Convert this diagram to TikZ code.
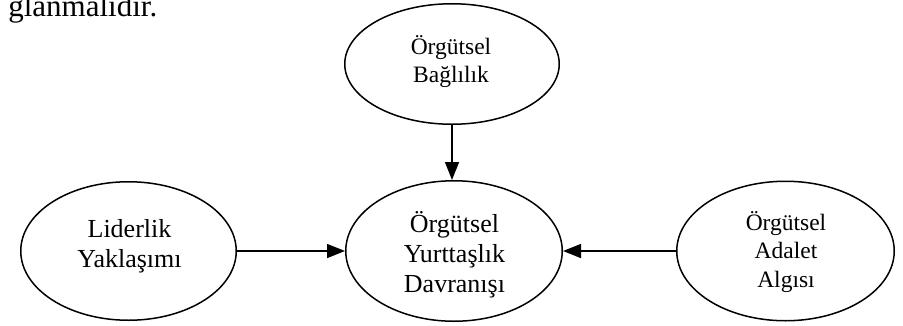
\documentclass[tikz,border=0pt]{standalone}
\usepackage{fontspec}
\setmainfont{Liberation Serif}
\usetikzlibrary{shapes.geometric,arrows.meta}
\tikzset{
  ell/.style={draw, ellipse, line width=1.5pt, inner sep=0pt},
  txt/.style={anchor=base, inner sep=0pt},
  arr/.style={-{Triangle[length=18pt,width=14pt]}, line width=1.5pt},
}
\newcommand{\bigtxt}{\fontsize{26}{30}\selectfont}
\newcommand{\smalltxt}{\fontsize{23.5}{28.5}\selectfont}
\begin{document}
\begin{tikzpicture}[x=1pt,y=1pt]
\useasboundingbox (0,0) rectangle (903,-325);
% body text fragment
\node[anchor=base east, inner sep=0pt, font=\fontsize{31}{36}\selectfont] (frag) at (157.5,-16) {ğlanmalıdır.};
% ellipses
\node[ell, minimum width=214.5pt, minimum height=120.5pt] (bag) at (452,-64) {};
\node[ell, minimum width=216.5pt, minimum height=140.5pt] (yur) at (454,-251) {};
\node[ell, minimum width=215.5pt, minimum height=138.5pt] (lid) at (128.5,-251) {};
\node[ell, minimum width=217.5pt, minimum height=139.5pt] (ada) at (785.5,-251) {};
% texts
\node[txt] (bagt) at (451,-54) {\smalltxt\begin{tabular}[t]{@{}c@{}}Örgütsel\\Bağlılık\end{tabular}};
\node[txt] (yurt) at (454.5,-232) {\bigtxt\begin{tabular}[t]{@{}c@{}}Örgütsel\\Yurttaşlık\\Davranışı\end{tabular}};
\node[txt] (lidt) at (129.5,-237) {\bigtxt\begin{tabular}[t]{@{}c@{}}Liderlik\\Yaklaşımı\end{tabular}};
\node[txt] (adat) at (786,-230) {\smalltxt\begin{tabular}[t]{@{}c@{}}Örgütsel\\Adalet\\Algısı\end{tabular}};
% arrows
\draw[arr] (bag.south) -- (bag.south |- yur.north);
\draw[arr] (lid.east) -- (yur.west);
\draw[arr] (ada.west) -- (yur.east);
\end{tikzpicture}
\end{document}
